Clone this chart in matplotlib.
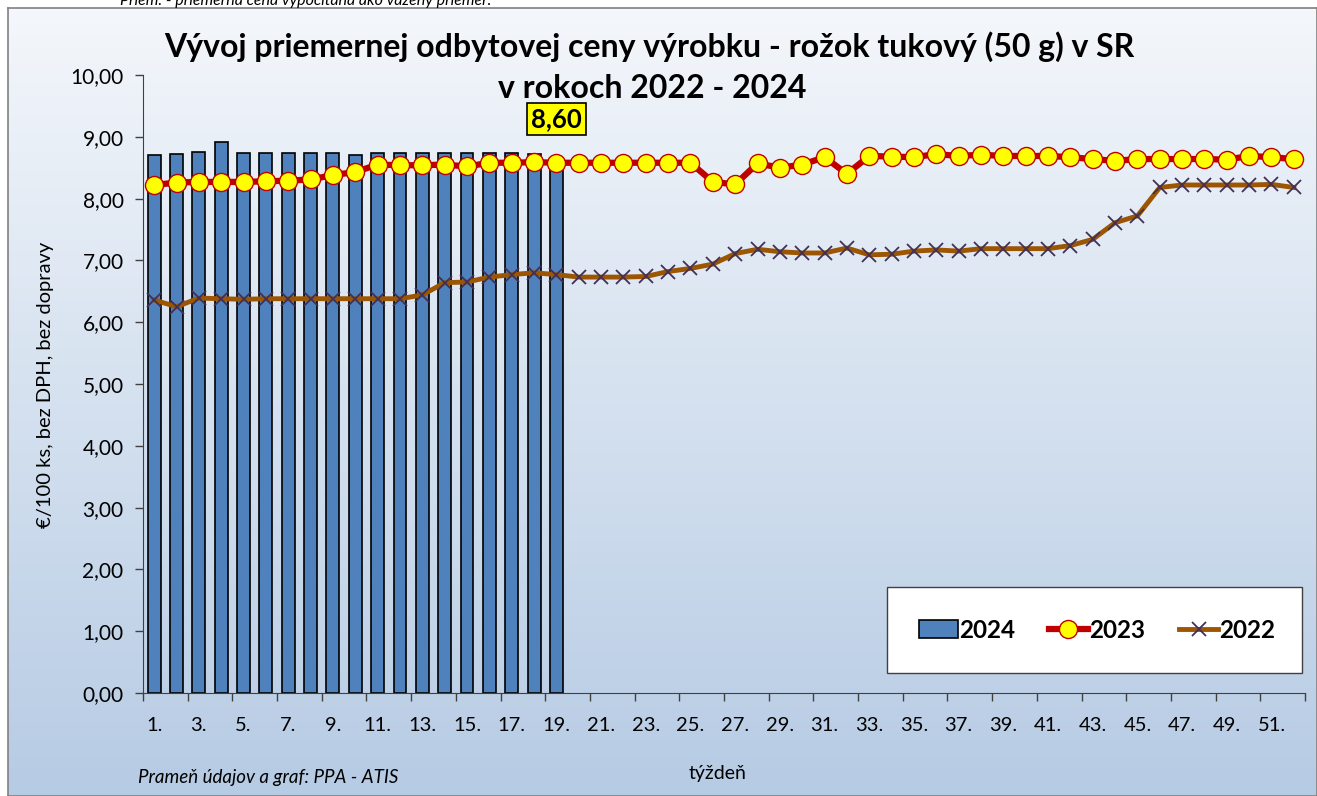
import numpy as np
import matplotlib
matplotlib.use("Agg")
from matplotlib import pyplot as plt
from matplotlib.patches import Rectangle
from matplotlib.lines import Line2D

plt.rcParams['font.family'] = ['Lato', 'DejaVu Sans']

weeks = list(range(1, 53))
tick_labels = [f"{w}." for w in range(1, 53, 2)]

price_2024 = [8.70, 8.72, 8.76, 8.91, 8.73, 8.73, 8.73, 8.73, 8.73, 8.71,
              8.73, 8.73, 8.73, 8.73, 8.73, 8.73, 8.73, 8.72, 8.60]

price_2023 = [8.22, 8.26, 8.27, 8.27, 8.27, 8.28, 8.29, 8.31, 8.38, 8.43,
              8.55, 8.54, 8.54, 8.55, 8.52, 8.58, 8.58, 8.59, 8.58, 8.58,
              8.58, 8.58, 8.58, 8.58, 8.58, 8.27, 8.23, 8.57, 8.50, 8.55,
              8.67, 8.40, 8.69, 8.68, 8.67, 8.72, 8.69, 8.71, 8.69, 8.69,
              8.69, 8.67, 8.64, 8.61, 8.64, 8.64, 8.64, 8.64, 8.63, 8.69,
              8.67, 8.64]

price_2022 = [6.36, 6.25, 6.39, 6.38, 6.37, 6.38, 6.38, 6.38, 6.38, 6.38,
              6.38, 6.38, 6.44, 6.64, 6.65, 6.73, 6.77, 6.80, 6.77, 6.73,
              6.73, 6.73, 6.74, 6.82, 6.87, 6.94, 7.11, 7.18, 7.14, 7.12,
              7.12, 7.20, 7.09, 7.10, 7.15, 7.17, 7.15, 7.19, 7.19, 7.19,
              7.19, 7.24, 7.34, 7.61, 7.72, 8.18, 8.22, 8.22, 8.22, 8.22,
              8.23, 8.18]

W, H = 1317, 796
fig = plt.figure(figsize=(W / 100, H / 100), dpi=100)

# gradient background of the chart area
bg = fig.add_axes([8 / W, 0, 1 - 8 / W, (H - 8) / H], zorder=-10)
grad = np.linspace(0, 1, 256)[:, None]
top = np.array([0xf4, 0xf7, 0xfb]) / 255
bot = np.array([0xb6, 0xcb, 0xe4]) / 255
img = top[None, None, :] * (1 - grad[:, :, None]) + bot[None, None, :] * grad[:, :, None]
bg.imshow(img, aspect='auto', extent=[0, 1, 0, 1])
bg.set_xlim(0, 1)
bg.set_ylim(0, 1)
bg.set_xticks([])
bg.set_yticks([])
for s in bg.spines.values():
    s.set_color('#808080')
    s.set_linewidth(1.2)

ax = fig.add_axes([143 / W, (H - 693) / H, (1305 - 143) / W, (693 - 75) / H])
ax.patch.set_alpha(0)

ax.bar(weeks[:len(price_2024)], price_2024, width=0.58, color='#4f81bd',
       edgecolor='black', linewidth=1.2, zorder=2, label='2024')
ax.plot(weeks, price_2022, color='#9c5500', linewidth=3.5, marker='x',
        markersize=10, markeredgecolor='#403058', markeredgewidth=1.3,
        zorder=3, label='2022')
ax.plot(weeks, price_2023, color='#c00000', linewidth=4.5, marker='o',
        markersize=13, markerfacecolor='#ffff00', markeredgecolor='#c00000',
        markeredgewidth=1, zorder=4, label='2023')

ax.set_xlim(0.5, 52.5)
ax.set_ylim(0, 10)
ax.set_yticks(np.arange(0, 10.01, 1))
ax.set_yticklabels([f"{v:.2f}".replace('.', ',') for v in np.arange(0, 10.01, 1)],
                   fontsize=15)
ax.set_xticks(range(1, 53, 2))
ax.set_xticklabels(tick_labels, fontsize=14.5)
ax.set_xticks(np.arange(0.5, 53, 2), minor=True)
ax.tick_params(axis='x', which='major', length=0, pad=17)
ax.tick_params(axis='x', which='minor', length=6, width=1, color='#404040')
ax.tick_params(axis='y', length=6, width=1, color='#404040', pad=8)
for s in ['top', 'right']:
    ax.spines[s].set_visible(False)
ax.spines['left'].set_color('#404040')
ax.spines['bottom'].set_color('#404040')

# data label for last 2024 week
ax.text(19, 9.29, "8,60", ha='center', va='center', fontsize=18.5, fontweight='bold',
        bbox=dict(boxstyle='square,pad=0.15', facecolor='#ffff00',
                  edgecolor='black', linewidth=1.2), zorder=6)

fig.text(649 / W, 1 - 47 / H, "Vývoj priemernej odbytovej ceny výrobku - rožok tukový (50 g) v SR",
         ha='center', va='center', fontsize=23, fontweight='bold')
fig.text(652 / W, 1 - 89 / H, "v rokoch 2022 - 2024",
         ha='center', va='center', fontsize=23, fontweight='bold')
# note at the very top, partly cut off as in the source
fig.text(120 / W, 1 - 1 / H, "Priem. - priemerná cena vypočítaná ako vážený priemer.",
         ha='left', va='center', fontsize=11.5, style='italic')

fig.text(46 / W, 1 - 385 / H, "€/100 ks, bez DPH, bez dopravy", rotation=90,
         ha='center', va='center', fontsize=14.5)
fig.text(718 / W, 1 - 773 / H, "týždeň", ha='center', va='center', fontsize=14)
fig.text(138 / W, 1 - 778 / H, "Prameň údajov a graf: PPA - ATIS", ha='left',
         va='center', fontsize=13.5, style='italic')

# legend box
fig.patches.append(Rectangle((887 / W, 1 - 673 / H), (1302 - 887) / W, (673 - 587) / H,
                             transform=fig.transFigure, facecolor='white',
                             edgecolor='#404040', linewidth=1, zorder=5))
handles = [
    Rectangle((0, 0), 1, 1, facecolor='#4f81bd', edgecolor='black', linewidth=1.2),
    Line2D([], [], color='#c00000', linewidth=4.5, marker='o', markersize=13,
           markerfacecolor='#ffff00', markeredgecolor='#c00000'),
    Line2D([], [], color='#9c5500', linewidth=3.5, marker='x', markersize=10,
           markeredgecolor='#403058', markeredgewidth=1.3),
]
leg = fig.legend(handles, ['2024', '2023', '2022'], loc='center',
                 bbox_to_anchor=(1097 / W, 1 - 630 / H), ncol=3, frameon=False,
                 prop={'size': 17.5, 'weight': 'bold'}, handlelength=1.6,
                 handletextpad=0.05, columnspacing=1.4)
leg.set_zorder(7)

fig.savefig("out.png", dpi=100)
